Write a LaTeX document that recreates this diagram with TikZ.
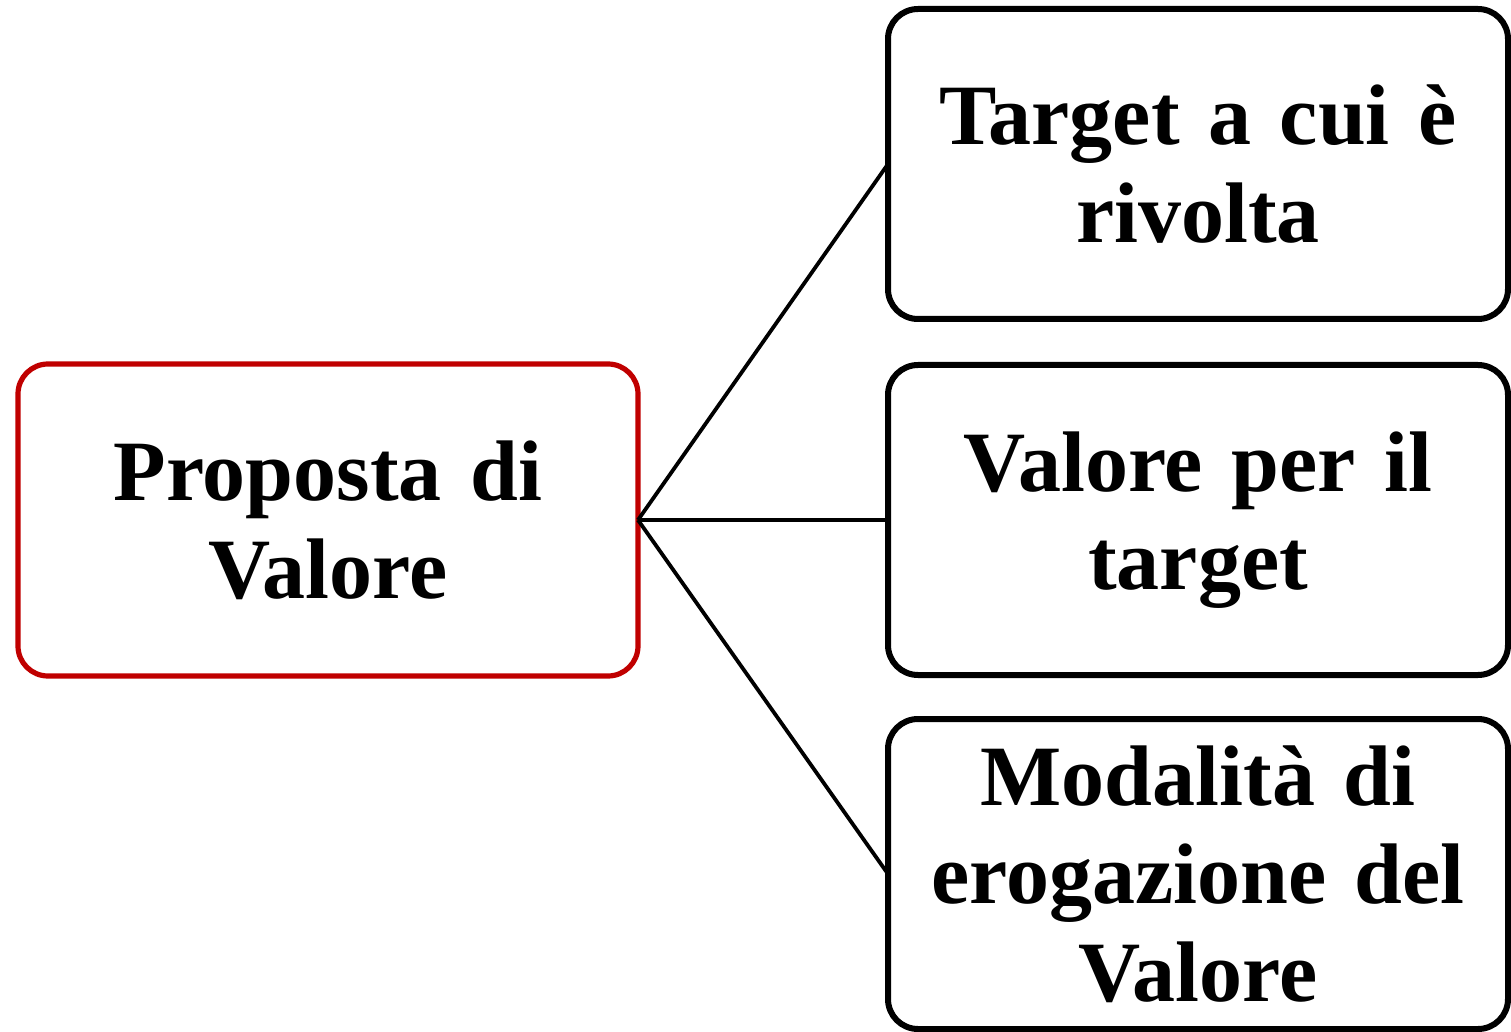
\documentclass[tikz,border=0pt]{standalone}
\usepackage{fontspec}
\setmainfont{Liberation Serif}
\definecolor{pvred}{HTML}{C00000}
\begin{document}
\begin{tikzpicture}[x=0.5pt,y=-0.5pt,
  box/.style={draw=black,line width=3pt,rounded corners=15pt,minimum width=310pt,
    minimum height=155pt,inner sep=0pt,outer sep=0pt,align=center,text width=300pt,
    font=\fontsize{43}{49}\selectfont\bfseries},
  mainbox/.style={box,draw=pvred,line width=2.6pt,minimum height=156pt},
  link/.style={line width=1.9pt}]
\useasboundingbox (0,0) rectangle (1511,1032);
\node[mainbox] (pv) at (328,520) {Proposta di\\Valore};
\node[box] (t1) at (1198,164) {Target a cui è\\rivolta};
\node[box] (t2) at (1198,520) {Valore per il\\target};
\node[box] (t3) at (1198,874) {Modalità di\\erogazione del\\Valore};
\draw[link] (pv.east) -- (t1.west);
\draw[link] (pv.east) -- (t2.west);
\draw[link] (pv.east) -- (t3.west);
\end{tikzpicture}
\end{document}
